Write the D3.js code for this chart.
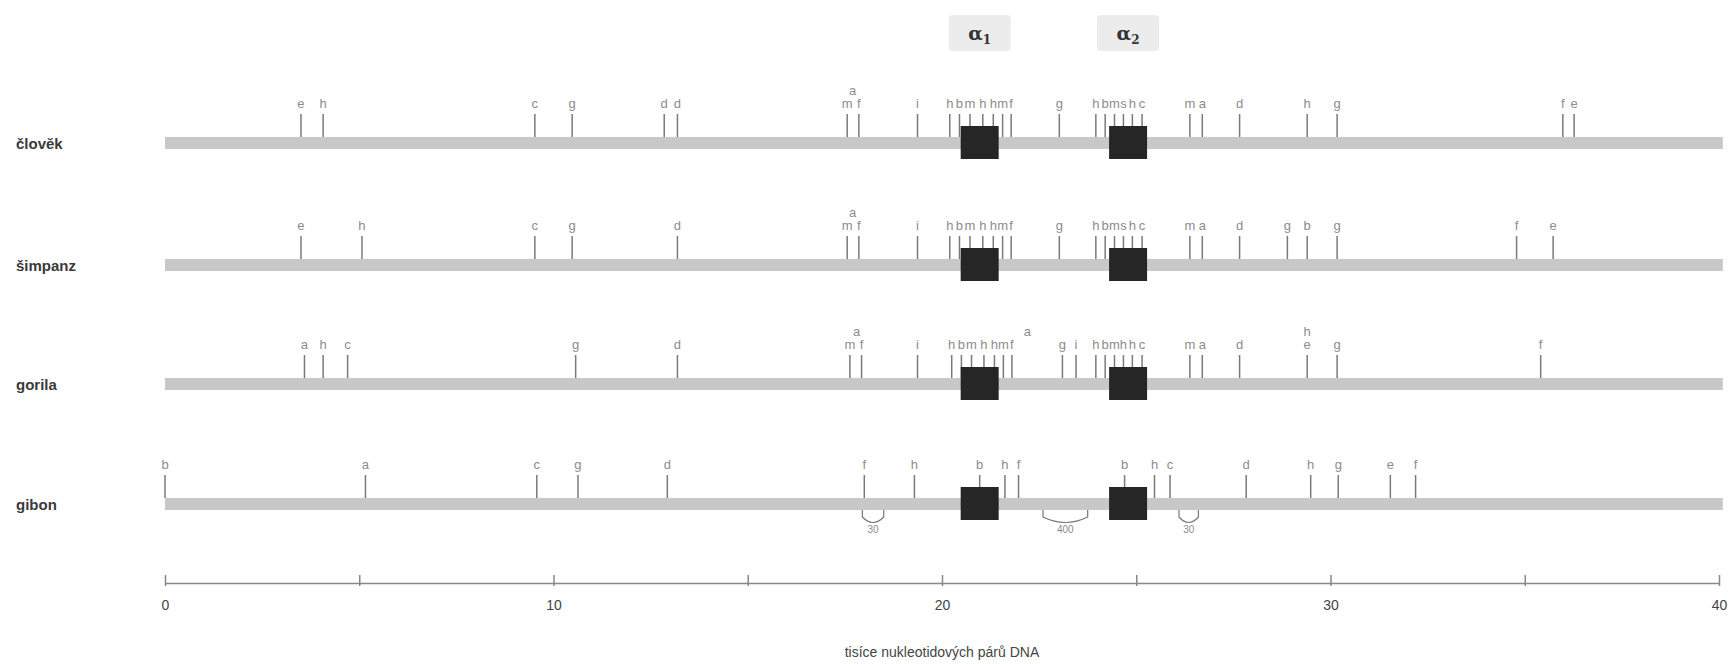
<!DOCTYPE html>
<html>
<head>
<meta charset="utf-8">
<script src="https://cdn.jsdelivr.net/npm/d3@7"></script>
<style>
body { margin: 0; background: #fff; }
svg { display: block; font-family: "Liberation Sans", Arial, sans-serif; }
</style>
</head>
<body>
<div id="chart"></div>
<script>
var species = ["človĕk", "šimpanz", "gorila", "gibon"];

// restriction sites: [letter, thousands of bp, stacked above?]
var clovekSites = [
    ["e", 3.5], ["h", 4.07], ["c", 9.52], ["g", 10.48], ["d", 12.85], ["d", 13.19],
    ["a", 17.7, 1], ["m", 17.56], ["f", 17.86], ["i", 19.37],
    ["h", 20.2], ["b", 20.45], ["m", 20.72], ["h", 21.05], ["h", 21.32], ["m", 21.56], ["f", 21.78], ["g", 23.02],
    ["h", 23.96], ["b", 24.2], ["m", 24.44], ["s", 24.67], ["h", 24.9], ["c", 25.15],
    ["m", 26.38], ["a", 26.7], ["d", 27.66], ["h", 29.4], ["g", 30.17], ["f", 35.98], ["e", 36.27]
];
var simpanzSites = [
    ["e", 3.5], ["h", 5.07], ["c", 9.52], ["g", 10.48], ["d", 13.19],
    ["a", 17.7, 1], ["m", 17.56], ["f", 17.86], ["i", 19.37],
    ["h", 20.2], ["b", 20.45], ["m", 20.72], ["h", 21.05], ["h", 21.32], ["m", 21.56], ["f", 21.78], ["g", 23.02],
    ["h", 23.96], ["b", 24.2], ["m", 24.44], ["s", 24.67], ["h", 24.9], ["c", 25.15],
    ["m", 26.38], ["a", 26.7], ["d", 27.66], ["g", 28.89], ["b", 29.4], ["g", 30.17], ["f", 34.79], ["e", 35.73]
];
var gorilaSites = [
    ["a", 3.59], ["h", 4.07], ["c", 4.7], ["g", 10.57], ["d", 13.19],
    ["a", 17.8, 1], ["m", 17.63], ["f", 17.93], ["i", 19.37],
    ["h", 20.25], ["b", 20.5], ["m", 20.76], ["h", 21.08], ["h", 21.35], ["m", 21.58], ["f", 21.8], ["a", 22.2, 1],
    ["g", 23.1], ["i", 23.45],
    ["h", 23.96], ["b", 24.2], ["m", 24.44], ["h", 24.67], ["h", 24.9], ["c", 25.15],
    ["m", 26.38], ["a", 26.7], ["d", 27.66], ["h", 29.4, 1], ["e", 29.4], ["g", 30.17], ["f", 35.41]
];
var gibonSites = [
    ["b", 0], ["a", 5.16], ["c", 9.57], ["g", 10.63], ["d", 12.93],
    ["f", 18.0], ["h", 19.29], ["b", 20.97], ["h", 21.62], ["f", 21.97],
    ["b", 24.7], ["h", 25.47], ["c", 25.87], ["d", 27.83], ["h", 29.49], ["g", 30.2], ["e", 31.54], ["f", 32.19]
];
var sites = [clovekSites, simpanzSites, gorilaSites, gibonSites];

var genes = [["α", "1", 20.97], ["α", "2", 24.79]];

// insertions / deletions drawn under the gibbon map
var gibonGaps = [[17.95, 18.5, "30"], [22.6, 23.75, "400"], [26.1, 26.6, "30"]];

var axisTicks = [0, 5, 10, 15, 20, 25, 30, 35, 40];
var axisLabels = [0, 10, 20, 30, 40];
var axisTitle = "tisíce nukleotidových párů DNA";

var W = 1736, H = 664;
var rowY = [143, 265, 384, 504];

var svg = d3.select("#chart").append("svg").attr("width", W).attr("height", H);
var x = d3.scaleLinear().domain([0, 40]).range([165, 1719]);

var rows = svg.selectAll("g.row")
    .data(species)
    .enter()
    .append("g")
    .attr("class", "row")
    .attr("transform", function(d, i) { return "translate(0," + rowY[i] + ")"; });

rows.append("text")
    .attr("x", 16)
    .attr("y", 6)
    .attr("font-size", 15)
    .attr("font-weight", "bold")
    .attr("fill", "#3a3a3a")
    .text(function(d) { return d; });

rows.append("rect")
    .attr("x", x(0))
    .attr("y", -6)
    .attr("width", x(40.1) - x(0))
    .attr("height", 12)
    .attr("fill", "#c8c8c8");

rows.each(function(name, i) {
    var g = d3.select(this);
    var s = sites[i];
    g.selectAll("line.site")
        .data(s.filter(function(d) { return !d[2]; }))
        .enter()
        .append("line")
        .attr("class", "site")
        .attr("x1", function(d) { return x(d[1]); })
        .attr("x2", function(d) { return x(d[1]); })
        .attr("y1", -6)
        .attr("y2", -29)
        .attr("stroke", "#7a7a7a")
        .attr("stroke-width", 1.5);
    g.selectAll("text.site")
        .data(s)
        .enter()
        .append("text")
        .attr("class", "site")
        .attr("x", function(d) { return x(d[1]); })
        .attr("y", function(d) { return d[2] ? -48 : -35; })
        .attr("text-anchor", "middle")
        .attr("font-size", 13)
        .attr("fill", "#8c8c8c")
        .text(function(d) { return d[0]; });
    g.selectAll("rect.gene")
        .data(genes)
        .enter()
        .append("rect")
        .attr("class", "gene")
        .attr("x", function(d) { return x(d[2]) - 19; })
        .attr("y", -17)
        .attr("width", 38)
        .attr("height", 33)
        .attr("fill", "#262626");
});

// gibbon gaps
var gib = svg.append("g").attr("transform", "translate(0," + rowY[3] + ")");
gib.selectAll("path")
    .data(gibonGaps)
    .enter()
    .append("path")
    .attr("d", function(d) {
        var a = x(d[0]), b = x(d[1]), m = (a + b) / 2;
        return "M" + a + ",6 V13 Q" + m + ",24 " + b + ",13 V6";
    })
    .attr("fill", "none")
    .attr("stroke", "#777")
    .attr("stroke-width", 1.2);
gib.selectAll("text.gap")
    .data(gibonGaps)
    .enter()
    .append("text")
    .attr("class", "gap")
    .attr("x", function(d) { return x((d[0] + d[1]) / 2); })
    .attr("y", 29)
    .attr("text-anchor", "middle")
    .attr("font-size", 10)
    .attr("fill", "#8c8c8c")
    .text(function(d) { return d[2]; });

// alpha gene labels
var gl = svg.selectAll("g.glabel")
    .data(genes)
    .enter()
    .append("g")
    .attr("class", "glabel")
    .attr("transform", function(d) { return "translate(" + x(d[2]) + ",33)"; });
gl.append("rect")
    .attr("x", -31).attr("y", -18)
    .attr("width", 62).attr("height", 36)
    .attr("rx", 4)
    .attr("fill", "#ececec");
var gt = gl.append("text")
    .attr("text-anchor", "middle")
    .attr("y", 7)
    .attr("font-family", "DejaVu Serif, serif")
    .attr("font-size", 19)
    .attr("font-weight", "bold")
    .attr("fill", "#333");
gt.append("tspan").text(function(d) { return d[0]; });
gt.append("tspan").attr("font-size", 12).attr("dy", 4).text(function(d) { return d[1]; });

// bottom scale
var axis = d3.axisBottom(x)
    .tickValues(axisTicks)
    .tickSize(0)
    .tickFormat(function(d) { return axisLabels.indexOf(d) >= 0 ? d : ""; });
var ax = svg.append("g").attr("transform", "translate(0,583)").call(axis);
ax.select(".domain").attr("stroke", "#888").attr("stroke-width", 1.5);
ax.selectAll(".tick line").attr("y1", -8).attr("y2", 3).attr("stroke", "#888").attr("stroke-width", 1.5);
ax.selectAll(".tick text").attr("dy", 0).attr("y", 27).attr("font-size", 14).attr("fill", "#444")
    .attr("font-family", "Liberation Sans, Arial, sans-serif");

svg.append("text")
    .attr("x", (x(0) + x(40)) / 2)
    .attr("y", 657)
    .attr("text-anchor", "middle")
    .attr("font-size", 14)
    .attr("fill", "#444")
    .text(axisTitle);
</script>
</body>
</html>
